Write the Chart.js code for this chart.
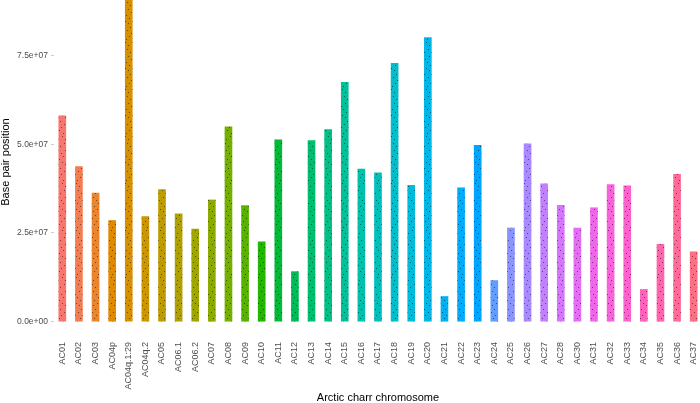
<!DOCTYPE html>
<html>
<head>
<meta charset="utf-8">
<script src="https://cdn.jsdelivr.net/npm/chart.js@4"></script>
<style>
  html, body { margin: 0; padding: 0; background: #fff; overflow: hidden; }
  #wrap { width: 702px; height: 403px; }
</style>
</head>
<body>
<div id="wrap"><canvas id="chart" width="702" height="403"></canvas></div>
<script>
const chromosomes = ["AC01", "AC02", "AC03", "AC04p", "AC04q.1:29", "AC04q.2", "AC05", "AC06.1", "AC06.2", "AC07",
  "AC08", "AC09", "AC10", "AC11", "AC12", "AC13", "AC14", "AC15", "AC16", "AC17",
  "AC18", "AC19", "AC20", "AC21", "AC22", "AC23", "AC24", "AC25", "AC26", "AC27",
  "AC28", "AC30", "AC31", "AC32", "AC33", "AC34", "AC35", "AC36", "AC37"];

// smallest and largest marker position per chromosome (bp)
const startPos = [0, 0, 0, 0, 0, 0, 0, 0, 0, 0,
  0, 0, 0, 0, 0, 0, 0, 0, 0, 0,
  0, 0, 0, 0, 0, 0, 0, 0, 0, 0,
  0, 0, 0, 0, 0, 0, 0, 0, 0];
const endPos = [58.0e6, 43.7e6, 36.2e6, 28.5e6, 92.0e6, 29.6e6, 37.2e6, 30.4e6, 26.1e6, 34.3e6,
  54.9e6, 32.7e6, 22.5e6, 51.2e6, 14.1e6, 51.0e6, 54.1e6, 67.4e6, 43.0e6, 41.9e6,
  72.8e6, 38.4e6, 80.0e6, 7.1e6, 37.7e6, 49.7e6, 11.6e6, 26.4e6, 50.1e6, 38.8e6,
  32.8e6, 26.4e6, 32.1e6, 38.6e6, 38.3e6, 9.1e6, 21.8e6, 41.5e6, 19.7e6];

const yTickValues = [0, 2.5e7, 5.0e7, 7.5e7];
const yTickLabels = ["0.0e+00", "2.5e+07", "5.0e+07", "7.5e+07"];

// ggplot-style hue palette (hcl, c=100, l=65)
function hcl(h, c, l) {
  const Xn = 95.047, Yn = 100, Zn = 108.883;
  const un = 4 * Xn / (Xn + 15 * Yn + 3 * Zn), vn = 9 * Yn / (Xn + 15 * Yn + 3 * Zn);
  const hr = h * Math.PI / 180;
  const u = c * Math.cos(hr), v = c * Math.sin(hr);
  const Y = Yn * Math.pow((l + 16) / 116, 3);
  const up = u / (13 * l) + un, vp = v / (13 * l) + vn;
  const X = Y * 9 * up / (4 * vp);
  const Z = Y * (12 - 3 * up - 20 * vp) / (4 * vp);
  const x = X / 100, y = Y / 100, z = Z / 100;
  const lin = [
    3.2404542 * x - 1.5371385 * y - 0.4985314 * z,
    -0.9692660 * x + 1.8760108 * y + 0.0415560 * z,
    0.0556434 * x - 0.2040259 * y + 1.0572252 * z
  ];
  return "#" + lin.map(t => {
    let s = t <= 0.0031308 ? 12.92 * t : 1.055 * Math.pow(t, 1 / 2.4) - 0.055;
    s = Math.min(1, Math.max(0, s));
    return Math.round(s * 255).toString(16).padStart(2, "0");
  }).join("");
}
const n = chromosomes.length;
const colors = chromosomes.map((_, i) => hcl(15 + i * 360 / n, 100, 65));

// speckled strip texture
const speckles = [[1, 2], [4, 5], [2, 9], [5, 12], [0, 15], [3, 18], [6, 21], [2, 23], [4, 27], [1, 30],
  [5, 33], [3, 36], [0, 39], [6, 42], [2, 45]];
function strip(color) {
  const c = document.createElement("canvas");
  c.width = 7; c.height = 47;
  const g = c.getContext("2d");
  g.fillStyle = color;
  g.fillRect(0, 0, 7, 47);
  g.fillStyle = "rgba(0,0,0,0.5)";
  speckles.forEach(([x, y]) => g.fillRect(x, y, 1, 1));
  return g.createPattern(c, "repeat");
}

// y title drawn by hand so it sits where the reference has it
const yTitle = {
  id: "yTitle",
  afterDraw(chart) {
    const g = chart.ctx;
    g.save();
    g.translate(6, 162);
    g.rotate(-Math.PI / 2);
    g.font = "11px 'Liberation Sans'";
    g.fillStyle = "#000";
    g.textAlign = "center";
    g.textBaseline = "middle";
    g.fillText("Base pair position", 0, 0);
    g.restore();
  }
};

const ctx = document.getElementById("chart").getContext("2d");
new Chart(ctx, {
  type: "bar",
  data: {
    labels: chromosomes,
    datasets: [{
      data: chromosomes.map((_, i) => [startPos[i], endPos[i]]),
      backgroundColor: colors.map(strip),
      borderWidth: 0,
      barThickness: 7
    }]
  },
  plugins: [yTitle],
  options: {
    responsive: false,
    animation: false,
    layout: { padding: 0 },
    plugins: { legend: { display: false }, tooltip: { enabled: false } },
    scales: {
      x: {
        grid: { display: false, drawTicks: false },
        border: { display: false },
        ticks: {
          minRotation: 90, maxRotation: 90, padding: 5, autoSkip: false,
          color: "#4D4D4D", font: { family: "Liberation Sans", size: 9 }
        },
        title: {
          display: true, text: "Arctic charr chromosome", color: "#000",
          font: { family: "Liberation Sans", size: 11 }, padding: { top: 0, bottom: -2 }
        },
        afterFit: s => { s.height = 66; s.paddingLeft = 0; s.paddingRight = 0; }
      },
      y: {
        min: -4.3e6,
        max: 90.6e6,
        grid: { display: true, drawOnChartArea: false, drawTicks: true, tickLength: 3, color: "#CCCCCC" },
        border: { display: false },
        afterBuildTicks: s => { s.ticks = yTickValues.map(v => ({ value: v })); },
        ticks: {
          padding: 3, color: "#4D4D4D", font: { family: "Liberation Sans", size: 8.5 },
          callback: (v) => yTickLabels[yTickValues.indexOf(v)]
        },
        afterFit: s => { s.width = 54; s.paddingTop = 0; s.paddingBottom = 0; }
      }
    }
  }
});
</script>
</body>
</html>
